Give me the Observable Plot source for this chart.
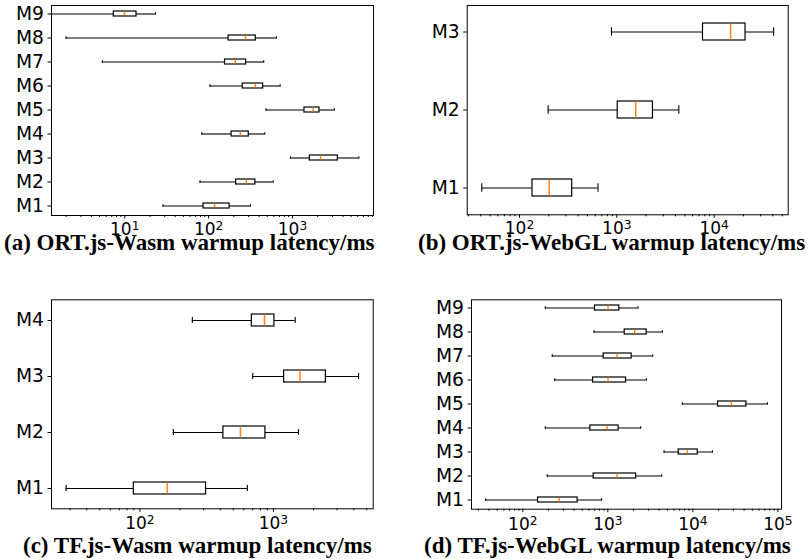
<!DOCTYPE html>
<html><head><meta charset="utf-8">
<script src="https://cdn.jsdelivr.net/npm/d3@7"></script>
<script src="https://cdn.jsdelivr.net/npm/@observablehq/plot@0.6"></script>
<style>
body{margin:0;background:#fff;}
#wrap{position:relative;width:811px;height:559px;overflow:hidden;background:#fff;}
.panel{position:absolute;}
.cap{position:absolute;font-family:"Liberation Serif","Times New Roman",serif;font-weight:bold;font-size:23px;line-height:17px;white-space:nowrap;color:#000;}
</style></head><body><div id="wrap"></div>
<script>
// (a) ORT.js-Wasm warmup latency (ms): whisker low, Q1, median, Q3, whisker high
const aModels = ["M1","M2","M3","M4","M5","M6","M7","M8","M9"];
const aLo  = [28.6, 79, 946, 83, 485, 104, 5.4, 2.0, 0];
const aQ1  = [87, 213, 1610, 188, 1390, 255, 157, 173, 7.4];
const aMed = [118, 282, 2160, 239, 1765, 361, 208, 275, 9.9];
const aQ3  = [178, 361, 3475, 301, 2100, 447, 280, 365, 13.8];
const aHi  = [315, 589, 6190, 467, 3150, 713, 454, 644, 23.3];
const aCaption = "(a) ORT.js-Wasm warmup latency/ms";

// (b) ORT.js-WebGL
const bModels = ["M1","M2","M3"];
const bLo  = [41, 197, 881];
const bQ1  = [136, 1021, 7680];
const bMed = [202, 1563, 14760];
const bQ3  = [348, 2350, 21000];
const bHi  = [641, 4335, 40800];
const bCaption = "(b) ORT.js-WebGL warmup latency/ms";

// (c) TF.js-Wasm
const cModels = ["M1","M2","M3","M4"];
const cLo  = [28, 178, 700, 247];
const cQ1  = [90, 422, 1203, 689];
const cMed = [160, 566, 1578, 857];
const cQ3  = [313, 871, 2472, 1018];
const cHi  = [638, 1541, 4345, 1456];
const cCaption = "(c) TF.js-Wasm warmup latency/ms";

// (d) TF.js-WebGL
const dModels = ["M1","M2","M3","M4","M5","M6","M7","M8","M9"];
const dLo  = [36.5, 194, 4580, 184, 7520, 237, 222, 688, 184];
const dQ1  = [151, 681, 6810, 622, 19770, 670, 893, 1578, 706];
const dMed = [268, 1283, 8610, 978, 28380, 1005, 1283, 2066, 1005];
const dQ3  = [441, 2148, 11400, 1340, 42600, 1637, 1905, 2858, 1365];
const dHi  = [845, 4295, 16950, 2433, 75200, 2838, 3366, 4375, 2265];
const dCaption = "(d) TF.js-WebGL warmup latency/ms";

const wrap = document.getElementById("wrap");

function panel(models, lo, q1, med, q3, hi, caption, g) {
  const data = models.map((m, i) => ({m, lo: lo[i], q1: q1[i], med: med[i], q3: q3[i], hi: hi[i]}));
  const pos = [...lo, ...hi].filter(v => v > 0).map(Math.log10);
  const mn = d3.min(pos), mx = d3.max(pos), span = mx - mn;
  const dom = [Math.pow(10, mn - 0.05 * span), Math.pow(10, mx + 0.05 * span)];
  const majors = [], minors = [];
  for (let k = Math.floor(Math.log10(dom[0])); k <= Math.ceil(Math.log10(dom[1])); k++) {
    for (let j = 1; j < 10; j++) {
      const v = j * Math.pow(10, k);
      if (v < dom[0] || v > dom[1]) continue;
      (j === 1 ? majors : minors).push(v);
    }
  }
  const n = models.length;
  const pIn = 0.78, pOut = 0.23;
  const step = (g.h - g.t - g.b) / (n - pIn + 2 * pOut);
  const capInset = step * (1 - pIn) / 4;
  const plot = Plot.plot({
    width: g.w, height: g.h,
    marginLeft: g.l, marginRight: g.r, marginTop: g.t, marginBottom: g.b,
    style: {fontFamily: "DejaVu Sans", color: "#000", background: "transparent", overflow: "visible"},
    x: {type: "log", domain: dom, label: null},
    y: {type: "band", domain: models.slice().reverse(), paddingInner: pIn, paddingOuter: pOut, label: null},
    marks: [
      Plot.ruleY(data, {y: "m", x1: d => d.lo > 0 ? d.lo : dom[0], x2: "q1", stroke: "#000", strokeWidth: 1.1, clip: true}),
      Plot.ruleY(data, {y: "m", x1: "q3", x2: "hi", stroke: "#000", strokeWidth: 1.1, clip: true}),
      Plot.tickX(data.filter(d => d.lo > 0), {x: "lo", y: "m", stroke: "#000", strokeWidth: 1.1, insetTop: capInset, insetBottom: capInset}),
      Plot.tickX(data, {x: "hi", y: "m", stroke: "#000", strokeWidth: 1.1, insetTop: capInset, insetBottom: capInset}),
      Plot.barX(data, {y: "m", x1: "q1", x2: "q3", fill: "#fff", stroke: "#000", strokeWidth: 1.2}),
      Plot.tickX(data, {x: "med", y: "m", stroke: "#ff7f0e", strokeWidth: 1.4, insetTop: 0.6, insetBottom: 0.6}),
      Plot.frame({stroke: "#000", strokeWidth: 1}),
      Plot.axisY({tickSize: 3.5, tickPadding: 4, fontSize: 18.7, label: null}),
      Plot.axisX(minors, {tickSize: 2, tickFormat: () => "", label: null}),
      Plot.axisX(majors, {tickSize: 3.5, tickPadding: g.tp, fontSize: 17, label: null,
        tickFormat: d => "10^" + Math.round(Math.log10(d))})
    ]
  });
  plot.querySelectorAll('g[aria-label="x-axis tick label"] text').forEach(t => {
    const m = /^10\^(-?\d+)$/.exec(t.textContent);
    if (!m) return;
    t.textContent = "10";
    const ts = document.createElementNS("http://www.w3.org/2000/svg", "tspan");
    ts.setAttribute("dy", "-0.42em");
    ts.setAttribute("font-size", "0.72em");
    ts.textContent = m[1];
    t.appendChild(ts);
  });
  const div = document.createElement("div");
  div.className = "panel";
  div.style.left = g.x + "px"; div.style.top = g.y + "px";
  div.appendChild(plot);
  wrap.appendChild(div);
  const cap = document.createElement("div");
  cap.className = "cap";
  cap.style.left = g.cx + "px"; cap.style.top = g.cy + "px";
  cap.textContent = caption;
  wrap.appendChild(cap);
}

panel(aModels, aLo, aQ1, aMed, aQ3, aHi, aCaption, {x: 0, y: 0, w: 400, h: 240, l: 51, r: 27, t: 5, b: 25, tp: 4, cx: 4, cy: 234});
panel(bModels, bLo, bQ1, bMed, bQ3, bHi, bCaption, {x: 400, y: 0, w: 411, h: 240, l: 66.7, r: 23.3, t: 5, b: 25.7, tp: 4, cx: 418, cy: 234});
panel(cModels, cLo, cQ1, cMed, cQ3, cHi, cCaption, {x: 0, y: 280, w: 400, h: 255, l: 51, r: 27.3, t: 19.3, b: 26.7, tp: 5, cx: 23, cy: 537});
panel(dModels, dLo, dQ1, dMed, dQ3, dHi, dCaption, {x: 400, y: 280, w: 411, h: 255, l: 71, r: 30, t: 19.3, b: 26.3, tp: 5, cx: 424, cy: 537});
</script></body></html>
